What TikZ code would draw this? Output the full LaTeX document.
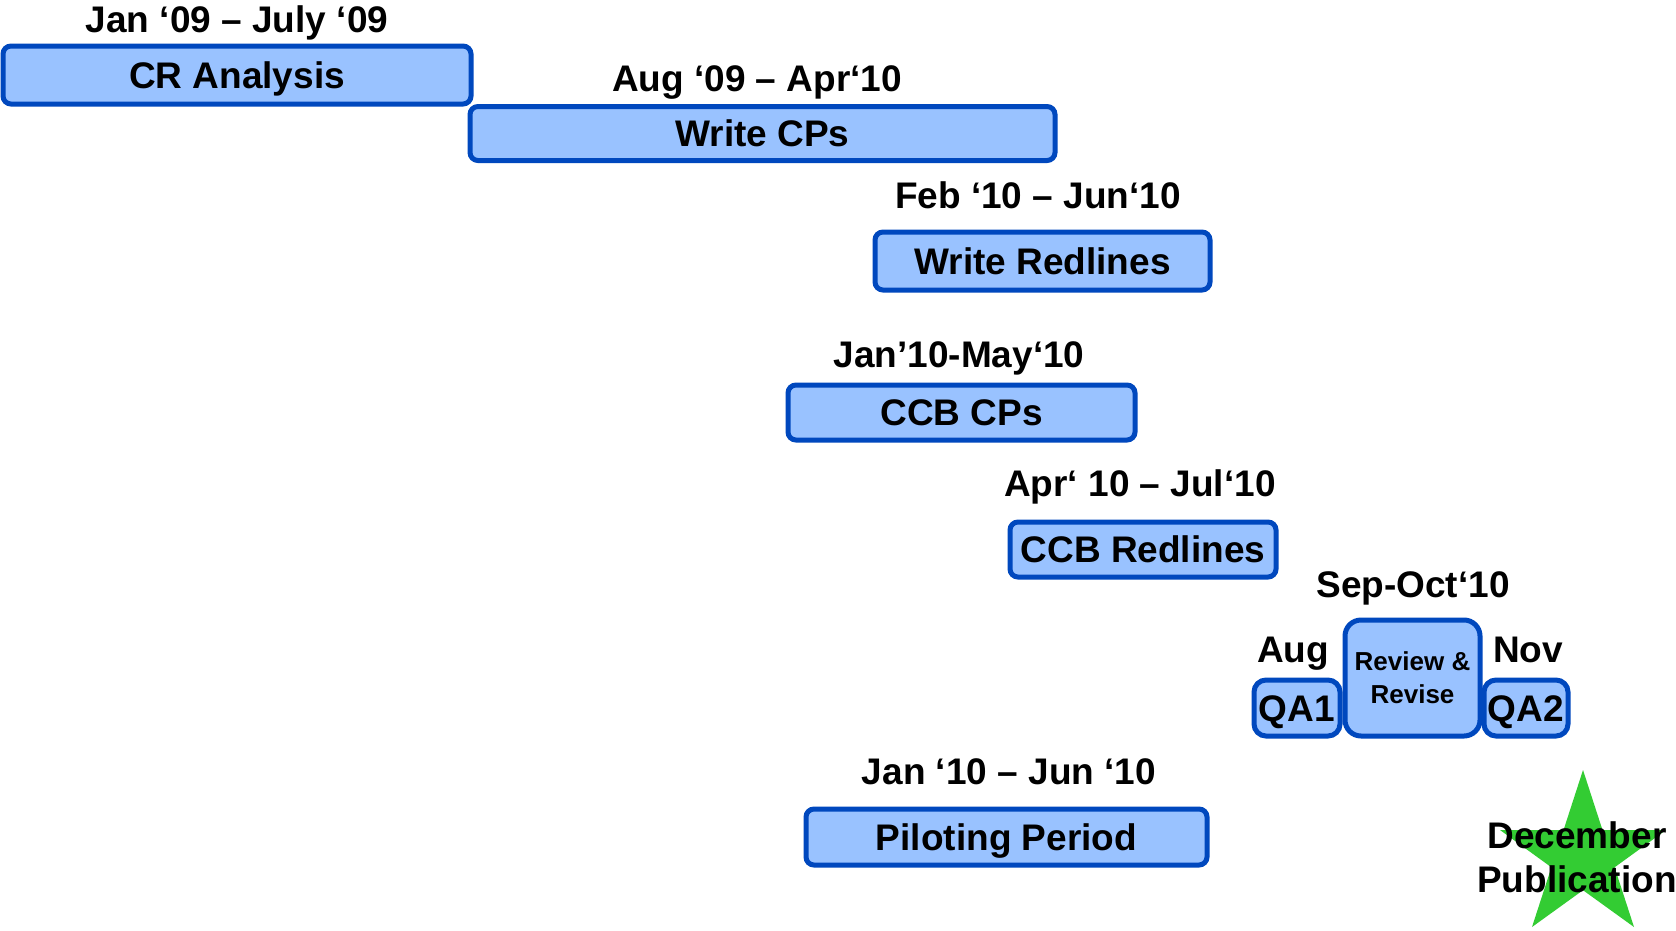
\documentclass[tikz,border=0pt]{standalone}
\usepackage{fontspec}
\setmainfont{Liberation Sans}
\definecolor{boxfill}{RGB}{153,194,255}
\definecolor{boxline}{RGB}{0,72,190}
\definecolor{stargreen}{RGB}{51,204,51}
\tikzset{
  bar/.style={draw=boxline, fill=boxfill, line width=5pt, rounded corners=8pt, inner sep=0pt,
    font=\fontsize{37}{44}\selectfont\bfseries, text height=26.5pt, text depth=0pt},
  qabox/.style={bar, rounded corners=12pt},
  datelbl/.style={anchor=base, inner sep=0pt, font=\fontsize{37}{44}\selectfont\bfseries},
}
\begin{document}
\begin{tikzpicture}[x=1pt,y=-1pt]
\useasboundingbox[fill=white] (0,0) rectangle (1676,930);
% bars
\node[bar, minimum width=468pt, minimum height=58pt] (cra) at (237,75) {CR Analysis};
\node[bar, minimum width=585pt, minimum height=54pt] (wcp) at (762.5,133.5) {Write CPs};
\node[bar, minimum width=335pt, minimum height=58pt] (wrl) at (1042.5,261) {Write Redlines};
\node[bar, minimum width=347pt, minimum height=55pt] (ccp) at (961.5,412.5) {CCB CPs};
\node[bar, minimum width=266pt, minimum height=55pt] (crl) at (1143,549.5) {CCB Redlines};
\node[bar, minimum width=401pt, minimum height=56pt] (pil) at (1006.5,837) {Piloting Period};
% QA cluster
\node[qabox, minimum width=86pt, minimum height=56pt] (qa1) at (1297,708) {QA1};
\node[bar, rounded corners=16pt, minimum width=135pt, minimum height=116pt,
  text height=, text depth=, align=center, font=\fontsize{26}{33}\selectfont\bfseries] (rr) at (1412.5,678) {Review \&\\Revise};
\node[qabox, minimum width=84pt, minimum height=56pt] (qa2) at (1526,708) {QA2};
% date labels
\node[datelbl] (l1) at (237,32) {Jan ‘09 – July ‘09};
\node[datelbl] (l2) at (757,91) {Aug ‘09 – Apr‘10};
\node[datelbl] (l3) at (1038,208) {Feb ‘10 – Jun‘10};
\node[datelbl] (l4) at (959,367) {Jan’10-May‘10};
\node[datelbl] (l5) at (1140,496) {Apr‘ 10 – Jul‘10};
\node[datelbl] (l6) at (1413,597) {Sep-Oct‘10};
\node[datelbl] (l7) at (1293,662) {Aug};
\node[datelbl] (l8) at (1528,662) {Nov};
\node[datelbl] (l9) at (1009,784) {Jan ‘10 – Jun ‘10};
% star
\fill[stargreen] (1583,770) -- (1602.5,830.1) -- (1666,830) -- (1614.6,867.3) -- (1634,927)
  -- (1583,890.2) -- (1532,927) -- (1551.4,867.3) -- (1500,830) -- (1563.5,830.1) -- cycle;
\node[datelbl] (dec) at (1577,848) {December};
\node[datelbl] (pub) at (1577,892) {Publication};
\end{tikzpicture}
\end{document}
